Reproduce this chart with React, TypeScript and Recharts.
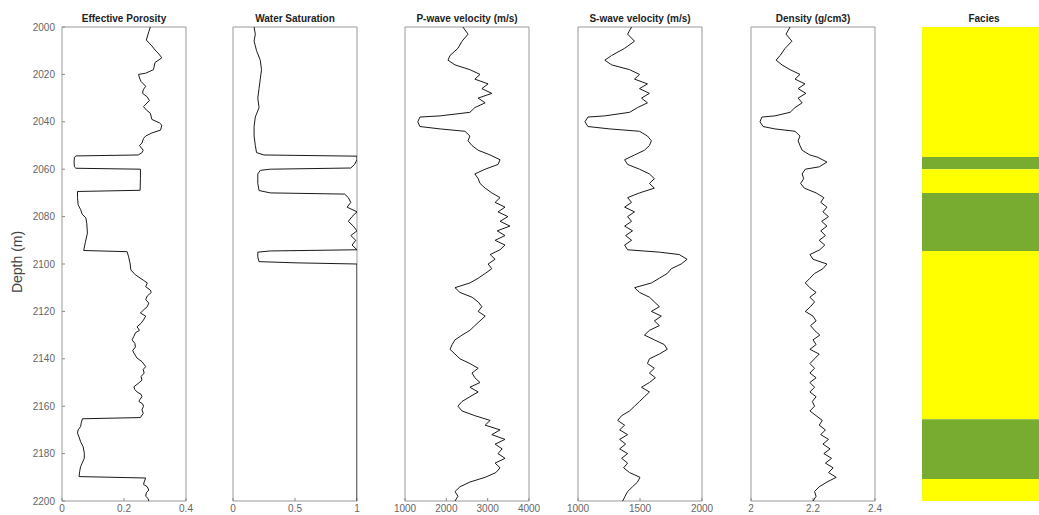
import React from 'react';
import { ScatterChart, Scatter, XAxis, YAxis, ReferenceArea } from 'recharts';

// ---------- data ----------
const depthTicks = [2000, 2020, 2040, 2060, 2080, 2100, 2120, 2140, 2160, 2180, 2200];

const porosityTicks = [0, 0.2, 0.4];
const swTicks = [0, 0.5, 1];
const vpTicks = [1000, 2000, 3000, 4000];
const vsTicks = [1000, 1500, 2000];
const rhoTicks = [2, 2.2, 2.4];

const porosityDepth = [2000, 2002, 2005.5, 2008, 2009.7, 2011, 2013, 2015, 2018, 2019.5, 2020, 2021.5, 2023, 2025, 2026.5, 2028, 2029.5, 2031, 2033.6, 2035, 2036.4, 2039, 2040.5, 2041.4, 2043.5, 2044.7, 2046, 2047, 2049, 2050, 2052, 2053, 2054, 2054.4, 2055, 2057, 2059, 2059.6, 2060, 2064, 2068.9, 2069.4, 2072, 2075, 2077, 2079, 2080.5, 2083, 2087, 2091, 2094.3, 2094.8, 2097, 2100, 2102.5, 2104.6, 2106.8, 2108, 2109.6, 2111, 2112, 2113.5, 2115, 2116.5, 2118, 2119.5, 2120.7, 2122, 2123.6, 2125, 2126.5, 2128, 2129, 2130.5, 2132, 2133.5, 2135, 2136.5, 2137.6, 2139.7, 2141.2, 2143.3, 2144.5, 2146, 2147.5, 2149, 2150.5, 2151.8, 2153, 2154, 2155, 2156, 2157, 2158, 2159, 2160, 2161.5, 2163, 2164.8, 2165.3, 2167, 2168.6, 2170, 2171.4, 2173, 2175, 2177, 2179.8, 2182, 2184, 2185.5, 2187.5, 2189.7, 2190.3, 2192, 2193, 2194, 2195.4, 2196.5, 2198, 2199, 2200];
const porosityValues = [0.285, 0.28, 0.272, 0.29, 0.3, 0.31, 0.322, 0.3, 0.295, 0.27, 0.247, 0.25, 0.255, 0.27, 0.262, 0.26, 0.275, 0.282, 0.263, 0.272, 0.285, 0.29, 0.315, 0.322, 0.318, 0.29, 0.27, 0.263, 0.258, 0.25, 0.262, 0.258, 0.246, 0.045, 0.04, 0.039, 0.04, 0.045, 0.253, 0.253, 0.252, 0.05, 0.05, 0.052, 0.06, 0.065, 0.077, 0.08, 0.082, 0.075, 0.07, 0.21, 0.215, 0.22, 0.222, 0.237, 0.262, 0.275, 0.27, 0.285, 0.288, 0.275, 0.27, 0.28, 0.275, 0.262, 0.253, 0.27, 0.263, 0.255, 0.242, 0.25, 0.237, 0.232, 0.226, 0.235, 0.237, 0.228, 0.232, 0.242, 0.258, 0.27, 0.262, 0.265, 0.255, 0.258, 0.245, 0.232, 0.235, 0.242, 0.255, 0.258, 0.252, 0.248, 0.26, 0.263, 0.258, 0.262, 0.253, 0.066, 0.062, 0.06, 0.052, 0.05, 0.055, 0.06, 0.068, 0.072, 0.072, 0.065, 0.06, 0.057, 0.055, 0.27, 0.265, 0.263, 0.275, 0.28, 0.272, 0.27, 0.278, 0.28];

const swDepth = [2000, 2003, 2006, 2010, 2014, 2018, 2022, 2026, 2030, 2034, 2038, 2042, 2046, 2050, 2053, 2054, 2054.5, 2056, 2058, 2059.5, 2060, 2060.5, 2062, 2066, 2069, 2070, 2070.5, 2072, 2074, 2076, 2078, 2080, 2082, 2084, 2086, 2088, 2090, 2092, 2094, 2094.5, 2095, 2097, 2099, 2099.5, 2100, 2150, 2200];
const swValues = [0.17, 0.18, 0.17, 0.19, 0.22, 0.23, 0.22, 0.21, 0.2, 0.21, 0.18, 0.17, 0.17, 0.18, 0.19, 0.25, 1.0, 1.0, 0.98, 0.95, 0.3, 0.22, 0.2, 0.2, 0.21, 0.3, 0.9, 0.93, 0.95, 0.92, 1.0, 0.96, 0.93, 0.97, 1.0, 0.95, 0.99, 0.96, 1.0, 0.3, 0.2, 0.2, 0.21, 0.5, 1.0, 1.0, 1.0];

const vpDepth = [2000, 2003, 2006, 2009, 2012, 2014, 2016, 2018, 2020, 2022, 2024, 2026, 2028, 2030, 2032, 2034, 2036, 2037.5, 2038, 2040, 2042, 2043, 2044, 2046, 2048, 2050, 2052, 2054, 2056, 2058, 2060, 2062, 2064, 2066, 2068, 2070, 2072, 2074, 2076, 2078, 2080, 2082, 2084, 2086, 2088, 2090, 2092, 2094, 2096, 2098, 2100, 2102, 2104, 2106, 2108, 2110, 2112, 2114, 2116, 2118, 2120, 2122, 2124, 2126, 2128, 2130, 2132, 2134, 2136, 2138, 2140, 2142, 2144, 2146, 2148, 2150, 2152, 2154, 2156, 2158, 2160, 2162, 2164, 2166, 2168, 2170, 2172, 2174, 2176, 2178, 2180, 2182, 2184, 2186, 2188, 2190, 2192, 2194, 2196, 2198, 2200];
const vpValues = [2400, 2525, 2380, 2280, 2090, 2040, 2210, 2570, 2815, 2690, 3010, 2860, 3100, 2770, 2940, 2690, 2570, 1850, 1360, 1310, 1360, 1850, 2450, 2570, 2525, 2620, 2770, 3060, 3300, 3250, 2940, 2690, 2770, 2815, 2940, 3100, 3300, 3180, 3420, 3250, 3490, 3300, 3540, 3230, 3420, 3180, 3420, 3300, 3060, 3180, 3010, 3100, 2940, 2770, 2570, 2210, 2330, 2620, 2770, 2860, 2770, 2940, 2815, 2690, 2570, 2380, 2210, 2140, 2090, 2210, 2330, 2570, 2770, 2620, 2690, 2815, 2570, 2770, 2570, 2380, 2280, 2380, 2690, 3060, 2940, 3300, 3100, 3420, 3180, 3350, 3250, 3420, 3180, 3300, 3200, 2940, 2570, 2330, 2210, 2280, 2210];

const vsDepth = [2000, 2003, 2006, 2009, 2012, 2014, 2016, 2018, 2020, 2022, 2024, 2026, 2028, 2030, 2032, 2034, 2036, 2037.5, 2038, 2040, 2042, 2043, 2044, 2046, 2048, 2050, 2052, 2054, 2056, 2058, 2060, 2062, 2064, 2066, 2068, 2070, 2072, 2074, 2076, 2078, 2080, 2082, 2084, 2086, 2088, 2090, 2092, 2094, 2095, 2096, 2098, 2100, 2102, 2104, 2106, 2108, 2110, 2112, 2114, 2116, 2118, 2120, 2122, 2124, 2126, 2128, 2130, 2132, 2134, 2136, 2138, 2140, 2142, 2144, 2146, 2148, 2150, 2152, 2154, 2156, 2158, 2160, 2162, 2164, 2166, 2168, 2170, 2172, 2174, 2176, 2178, 2180, 2182, 2184, 2186, 2188, 2190, 2192, 2194, 2196, 2198, 2200];
const vsValues = [1432, 1400, 1456, 1376, 1272, 1216, 1272, 1416, 1496, 1456, 1560, 1496, 1576, 1512, 1560, 1480, 1416, 1216, 1080, 1056, 1080, 1256, 1496, 1560, 1592, 1576, 1536, 1456, 1376, 1400, 1496, 1576, 1616, 1576, 1616, 1496, 1400, 1432, 1376, 1456, 1400, 1432, 1376, 1440, 1384, 1432, 1376, 1400, 1656, 1816, 1880, 1832, 1752, 1720, 1656, 1592, 1456, 1496, 1576, 1616, 1656, 1592, 1672, 1616, 1656, 1576, 1536, 1616, 1696, 1720, 1656, 1576, 1560, 1616, 1576, 1624, 1576, 1512, 1576, 1536, 1496, 1456, 1416, 1352, 1320, 1376, 1336, 1400, 1336, 1384, 1336, 1400, 1352, 1400, 1368, 1416, 1500, 1480, 1440, 1400, 1380, 1360];

const rhoDepth = [2000, 2003, 2006, 2009, 2012, 2014, 2016, 2018, 2020, 2022, 2024, 2026, 2028, 2030, 2032, 2034, 2036, 2037.5, 2038, 2040, 2042, 2043, 2044, 2046, 2048, 2050, 2052, 2054, 2055, 2057, 2059, 2060, 2062, 2064, 2066, 2068, 2070, 2072, 2074, 2076, 2078, 2080, 2082, 2084, 2086, 2088, 2090, 2092, 2094, 2096, 2098, 2100, 2102, 2104, 2106, 2108, 2110, 2112, 2114, 2116, 2118, 2120, 2122, 2124, 2126, 2128, 2130, 2132, 2134, 2136, 2138, 2140, 2142, 2144, 2146, 2148, 2150, 2152, 2154, 2156, 2158, 2160, 2162, 2164, 2166, 2168, 2170, 2172, 2174, 2176, 2178, 2180, 2182, 2184, 2186, 2188, 2190, 2192, 2194, 2196, 2198, 2200];
const rhoValues = [2.126, 2.113, 2.132, 2.11, 2.094, 2.081, 2.1, 2.126, 2.158, 2.142, 2.174, 2.152, 2.177, 2.152, 2.165, 2.142, 2.126, 2.077, 2.035, 2.029, 2.039, 2.077, 2.142, 2.158, 2.152, 2.158, 2.165, 2.19, 2.216, 2.245, 2.22, 2.175, 2.165, 2.17, 2.16, 2.172, 2.21, 2.235, 2.225, 2.245, 2.232, 2.25, 2.228, 2.245, 2.225, 2.24, 2.22, 2.238, 2.222, 2.19, 2.2, 2.245, 2.232, 2.205, 2.19, 2.175, 2.19, 2.21, 2.19, 2.205, 2.192, 2.175, 2.2, 2.21, 2.192, 2.205, 2.222, 2.2, 2.21, 2.19, 2.22, 2.205, 2.19, 2.205, 2.19, 2.21, 2.19, 2.205, 2.19, 2.21, 2.198, 2.205, 2.19, 2.21, 2.23, 2.22, 2.24, 2.225, 2.25, 2.232, 2.255, 2.235, 2.26, 2.24, 2.265, 2.25, 2.275, 2.245, 2.22, 2.205, 2.21, 2.2];

const faciesTop = [2000, 2054.8, 2060, 2070, 2094.5, 2165.5, 2190.7];
const faciesBase = [2054.8, 2060, 2070, 2094.5, 2165.5, 2190.7, 2200];
const faciesCode = [1, 2, 1, 2, 1, 2, 1];

// ---------- layout ----------
const PANEL_TOP = 27;
const PANEL_H = 474;
const PANEL_W = 124;
const CHART_H = 560;
const YW = 45;
const RM = 30;
const FONT = '"Liberation Sans", Arial, Helvetica, sans-serif';
const faciesColors: Record<number, string> = { 1: '#FFFF00', 2: '#77AC30' };

const tickStyle = { fontSize: 10, fill: '#666', fontFamily: FONT };

function Title({ left, text }: { left: number; text: string }) {
  return (
    <div
      style={{
        position: 'absolute',
        left,
        top: 13,
        width: PANEL_W,
        textAlign: 'center',
        fontFamily: FONT,
        fontWeight: 'bold',
        fontSize: 10,
        lineHeight: '12px',
        color: '#222',
        whiteSpace: 'nowrap',
      }}
    >
      {text}
    </div>
  );
}

function LogPanel({
  left,
  title,
  depths,
  values,
  domain,
  ticks,
  showDepth,
}: {
  left: number;
  title: string;
  depths: number[];
  values: number[];
  domain: [number, number];
  ticks: number[];
  showDepth: boolean;
}) {
  const data = depths.map((d, i) => ({ d, v: values[i] }));
  return (
    <>
      <Title left={left} text={title} />
      <div style={{ position: 'absolute', left: left - YW, top: 0 }}>
        <ScatterChart
          width={YW + PANEL_W + RM}
          height={CHART_H}
          margin={{ top: PANEL_TOP, right: RM, bottom: 0, left: 0 }}
        >
          <XAxis
            type="number"
            dataKey="v"
            domain={domain}
            ticks={ticks}
            interval={0}
            allowDataOverflow
            height={CHART_H - PANEL_TOP - PANEL_H}
            axisLine={false}
            tickLine={{ stroke: '#888' }}
            tickSize={-3}
            tickMargin={7}
            tick={tickStyle}
          />
          <YAxis
            type="number"
            dataKey="d"
            domain={[2000, 2200]}
            reversed
            ticks={depthTicks}
            interval={0}
            allowDataOverflow
            width={YW}
            axisLine={false}
            tickLine={{ stroke: '#888' }}
            tickSize={-3}
            tickMargin={10}
            tick={showDepth ? tickStyle : false}
          />
          <ReferenceArea
            x1={domain[0]}
            x2={domain[1]}
            y1={2000}
            y2={2200}
            fill="none"
            fillOpacity={0}
            stroke="#999"
            strokeWidth={1}
            ifOverflow="visible"
          />
          <Scatter
            data={data}
            line={{ stroke: '#1a1a1a', strokeWidth: 1 }}
            lineJointType="linear"
            shape={() => <g />}
            isAnimationActive={false}
          />
        </ScatterChart>
      </div>
    </>
  );
}

function FaciesPanel({ left }: { left: number }) {
  return (
    <>
      <Title left={left} text="Facies" />
      <div style={{ position: 'absolute', left: left - YW, top: 0 }}>
        <ScatterChart
          width={YW + PANEL_W + RM}
          height={CHART_H}
          margin={{ top: PANEL_TOP, right: RM, bottom: 0, left: 0 }}
        >
          <XAxis
            type="number"
            dataKey="v"
            domain={[0, 1]}
            allowDataOverflow
            height={CHART_H - PANEL_TOP - PANEL_H}
            axisLine={false}
            tickLine={false}
            tick={false}
          />
          <YAxis
            type="number"
            dataKey="d"
            domain={[2000, 2200]}
            reversed
            allowDataOverflow
            width={YW}
            axisLine={false}
            tickLine={false}
            tick={false}
          />
          {faciesTop.map((top, i) => (
            <ReferenceArea
              key={i}
              x1={0}
              x2={1}
              y1={top}
              y2={faciesBase[i]}
              fill={faciesColors[faciesCode[i]]}
              fillOpacity={1}
              stroke="none"
              ifOverflow="visible"
            />
          ))}
          <Scatter data={[]} isAnimationActive={false} />
        </ScatterChart>
      </div>
    </>
  );
}

export default function App() {
  return (
    <div
      style={{
        position: 'fixed',
        left: 0,
        top: 0,
        width: 1039,
        height: 515,
        overflow: 'hidden',
        background: '#fff',
      }}
    >
      <div
        style={{
          position: 'absolute',
          left: 17,
          top: 262,
          transform: 'translate(-50%, -50%) rotate(-90deg)',
          fontFamily: FONT,
          fontSize: 14,
          color: '#444',
          whiteSpace: 'nowrap',
        }}
      >
        Depth (m)
      </div>
      <LogPanel left={62} title="Effective Porosity" depths={porosityDepth} values={porosityValues} domain={[0, 0.4]} ticks={porosityTicks} showDepth />
      <LogPanel left={233} title="Water Saturation" depths={swDepth} values={swValues} domain={[0, 1]} ticks={swTicks} showDepth={false} />
      <LogPanel left={405} title="P-wave velocity (m/s)" depths={vpDepth} values={vpValues} domain={[1000, 4000]} ticks={vpTicks} showDepth={false} />
      <LogPanel left={578} title="S-wave velocity (m/s)" depths={vsDepth} values={vsValues} domain={[1000, 2000]} ticks={vsTicks} showDepth={false} />
      <LogPanel left={751} title="Density (g/cm3)" depths={rhoDepth} values={rhoValues} domain={[2, 2.4]} ticks={rhoTicks} showDepth={false} />
      <FaciesPanel left={922} />
    </div>
  );
}
